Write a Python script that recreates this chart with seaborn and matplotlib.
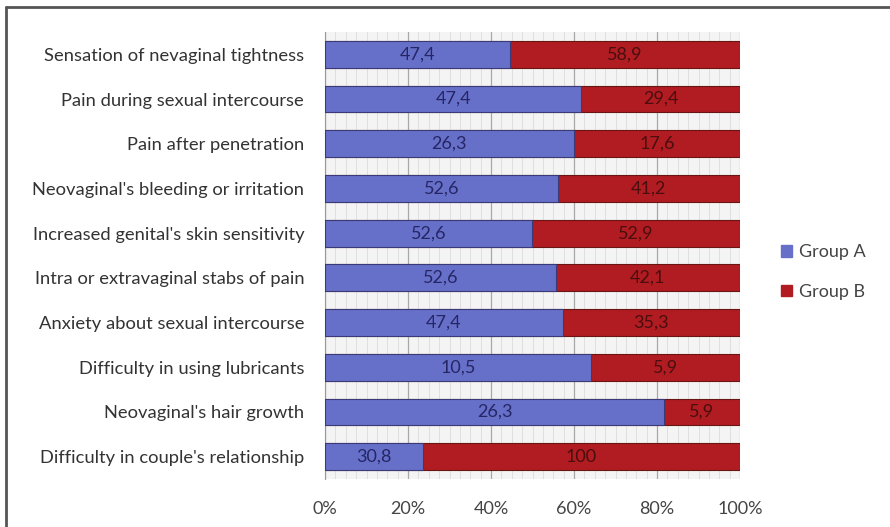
import matplotlib
matplotlib.use("Agg")
import matplotlib.pyplot as plt
import matplotlib.lines as mlines
from matplotlib.ticker import MultipleLocator, PercentFormatter
from matplotlib.patches import Patch
import seaborn as sns
import pandas as pd

categories = [
    "Sensation of nevaginal tightness",
    "Pain during sexual intercourse",
    "Pain after penetration",
    "Neovaginal's bleeding or irritation",
    "Increased genital's skin sensitivity",
    "Intra or extravaginal stabs of pain",
    "Anxiety about sexual intercourse",
    "Difficulty in using lubricants",
    "Neovaginal's hair growth",
    "Difficulty in couple's relationship",
]
group_a = [47.4, 47.4, 26.3, 52.6, 52.6, 52.6, 47.4, 10.5, 26.3, 30.8]
group_b = [58.9, 29.4, 17.6, 41.2, 52.9, 42.1, 35.3, 5.9, 5.9, 100]

df = pd.DataFrame({"cat": categories, "A": group_a, "B": group_b})
df["total"] = df["A"] + df["B"]
df["pa"] = df["A"] / df["total"] * 100
df["ptot"] = 100.0

blue = "#6670C8"
red = "#B01C21"

sns.set_style("white")
plt.rcParams["font.family"] = ["Lato", "DejaVu Sans"]

fig = plt.figure(figsize=(8.9, 5.27), dpi=100)
ax = fig.add_axes([325 / 890, 1 - 479 / 527, 415 / 890, 447 / 527])

sns.barplot(data=df, y="cat", x="ptot", color=red, orient="h", width=0.6,
            saturation=1, ax=ax, edgecolor="#6a1414", linewidth=0.8, zorder=3)
sns.barplot(data=df, y="cat", x="pa", color=blue, orient="h", width=0.6,
            saturation=1, ax=ax, edgecolor="#3a3a78", linewidth=0.8, zorder=4)

for i, row in df.iterrows():
    ax.text(row["pa"] / 2, i, f"{row['A']:.1f}".replace(".", ","), ha="center",
            va="center", fontsize=13, color="#262666", zorder=5)
    ax.text(row["pa"] + (100 - row["pa"]) / 2, i, f"{row['B']:g}".replace(".", ","),
            ha="center", va="center", fontsize=13, color="#4a0e0e", zorder=5)

ax.set_xlim(0, 100)
ax.set_ylim(9.5, -0.5)
ax.xaxis.set_major_locator(MultipleLocator(20))
ax.xaxis.set_minor_locator(MultipleLocator(2.5))
ax.xaxis.set_major_formatter(PercentFormatter(decimals=0))
ax.grid(axis="x", which="major", color="#a8a8a8", linewidth=0.9, zorder=0)
ax.grid(axis="x", which="minor", color="#dcdcdc", linewidth=0.6, zorder=0)
ax.set_axisbelow(True)
ax.set_facecolor("#f4f4f4")
for s in ["top", "right", "bottom"]:
    ax.spines[s].set_visible(False)
ax.spines["left"].set_color("#999999")
ax.set_xlabel("")
ax.set_ylabel("")
ax.tick_params(axis="x", which="both", length=0, labelsize=13, colors="#444444", pad=16)
ax.tick_params(axis="y", length=0, labelsize=13.2, colors="#333333", pad=15)

handles = [Patch(facecolor=blue, edgecolor=blue, label="Group A"),
           Patch(facecolor=red, edgecolor=red, label="Group B")]
fig.legend(handles=handles, loc="center left", bbox_to_anchor=(765 / 890, 1 - 272 / 527),
           frameon=False, fontsize=13, handlelength=0.6, handleheight=0.6,
           handletextpad=0.4, labelspacing=1.3, labelcolor="#444444")

fig.add_artist(mlines.Line2D([6 / 890, 1.0], [1 - 7 / 527] * 2, transform=fig.transFigure,
                             color="#555555", linewidth=2))
fig.add_artist(mlines.Line2D([6 / 890] * 2, [0, 1 - 7 / 527], transform=fig.transFigure,
                             color="#555555", linewidth=2))

fig.savefig("out.png", dpi=100)
